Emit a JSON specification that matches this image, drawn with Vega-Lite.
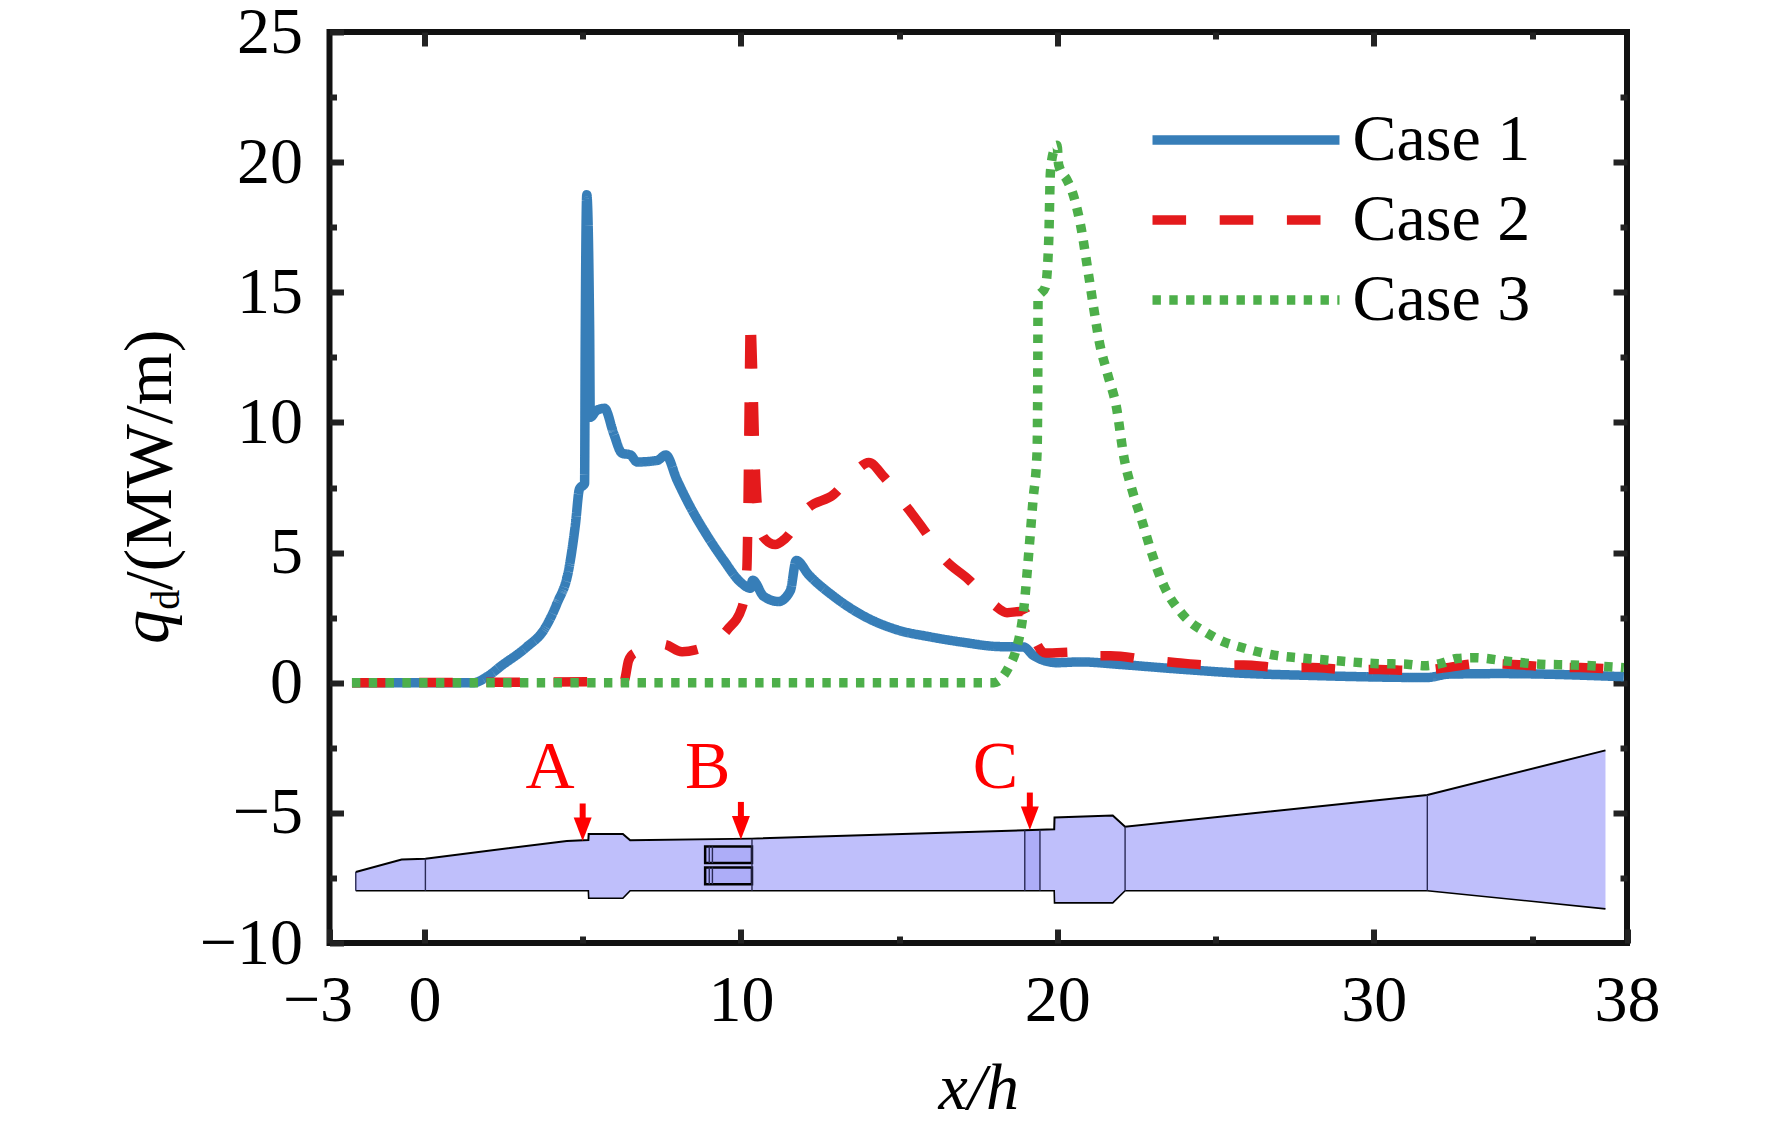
{
  "$schema": "https://vega.github.io/schema/vega-lite/v6.json",
  "autosize": {"type": "none"},
  "padding": {"left": 329.5, "top": 32, "right": 145, "bottom": 185},
  "width": 1297.5,
  "height": 911,
  "background": "white",
  "view": {"stroke": "#111111", "strokeWidth": 6, "fill": "white"},
  "config": {
    "font": "Liberation Serif",
    "axis": {
      "grid": false, "domain": false, "tickColor": "#222222", "tickWidth": 6,
      "labelFont": "Liberation Serif", "labelFontSize": 66, "labelColor": "#000000",
      "labelOverlap": false, "labelBound": false, "labelFlush": false, "zindex": 1
    }
  },
  "datasets": {
    "curves": [
      {"case": "Case 1", "x": -2.29, "q": 0}, {"case": "Case 1", "x": 1.55, "q": 0}, {"case": "Case 1", "x": 2.0, "q": 0.25},
      {"case": "Case 1", "x": 2.43, "q": 0.65}, {"case": "Case 1", "x": 3.24, "q": 1.38}, {"case": "Case 1", "x": 3.77, "q": 2.02},
      {"case": "Case 1", "x": 4.19, "q": 3.05}, {"case": "Case 1", "x": 4.56, "q": 4.35}, {"case": "Case 1", "x": 4.77, "q": 6.07},
      {"case": "Case 1", "x": 4.9, "q": 7.45}, {"case": "Case 1", "x": 5.06, "q": 7.65}, {"case": "Case 1", "x": 5.08, "q": 13},
      {"case": "Case 1", "x": 5.13, "q": 18.75}, {"case": "Case 1", "x": 5.22, "q": 13.6}, {"case": "Case 1", "x": 5.24, "q": 10.2},
      {"case": "Case 1", "x": 5.45, "q": 10.47}, {"case": "Case 1", "x": 5.69, "q": 10.54}, {"case": "Case 1", "x": 5.98, "q": 9.57},
      {"case": "Case 1", "x": 6.24, "q": 8.82}, {"case": "Case 1", "x": 6.51, "q": 8.75}, {"case": "Case 1", "x": 6.72, "q": 8.48},
      {"case": "Case 1", "x": 7.35, "q": 8.54}, {"case": "Case 1", "x": 7.63, "q": 8.75}, {"case": "Case 1", "x": 7.98, "q": 7.79},
      {"case": "Case 1", "x": 8.4, "q": 6.76}, {"case": "Case 1", "x": 8.93, "q": 5.66}, {"case": "Case 1", "x": 9.46, "q": 4.7},
      {"case": "Case 1", "x": 9.98, "q": 3.87}, {"case": "Case 1", "x": 10.3, "q": 3.63}, {"case": "Case 1", "x": 10.37, "q": 3.94},
      {"case": "Case 1", "x": 10.72, "q": 3.32}, {"case": "Case 1", "x": 11.19, "q": 3.12}, {"case": "Case 1", "x": 11.56, "q": 3.53},
      {"case": "Case 1", "x": 11.75, "q": 4.7}, {"case": "Case 1", "x": 12.14, "q": 4.15}, {"case": "Case 1", "x": 12.93, "q": 3.32},
      {"case": "Case 1", "x": 13.98, "q": 2.5}, {"case": "Case 1", "x": 14.94, "q": 2.03}, {"case": "Case 1", "x": 15.99, "q": 1.76},
      {"case": "Case 1", "x": 17.04, "q": 1.55}, {"case": "Case 1", "x": 18.1, "q": 1.39}, {"case": "Case 1", "x": 18.94, "q": 1.37},
      {"case": "Case 1", "x": 19.25, "q": 1.04}, {"case": "Case 1", "x": 19.99, "q": 0.77}, {"case": "Case 1", "x": 20.73, "q": 0.8},
      {"case": "Case 1", "x": 21.99, "q": 0.7}, {"case": "Case 1", "x": 23.89, "q": 0.52}, {"case": "Case 1", "x": 25.89, "q": 0.36},
      {"case": "Case 1", "x": 27.68, "q": 0.29}, {"case": "Case 1", "x": 31.68, "q": 0.2}, {"case": "Case 1", "x": 32.37, "q": 0.33},
      {"case": "Case 1", "x": 34.0, "q": 0.35}, {"case": "Case 1", "x": 37.9, "q": 0.23},

      {"case": "Case 2", "x": -2.29, "q": 0}, {"case": "Case 2", "x": 6.3, "q": 0.05}, {"case": "Case 2", "x": 6.45, "q": 0.85},
      {"case": "Case 2", "x": 6.61, "q": 1.12}, {"case": "Case 2", "x": 7.56, "q": 1.47}, {"case": "Case 2", "x": 8.14, "q": 1.19},
      {"case": "Case 2", "x": 8.56, "q": 1.26}, {"case": "Case 2", "x": 9.56, "q": 2.02}, {"case": "Case 2", "x": 10.04, "q": 2.91},
      {"case": "Case 2", "x": 10.19, "q": 4.42}, {"case": "Case 2", "x": 10.21, "q": 5.51}, {"case": "Case 2", "x": 10.25, "q": 9.49},
      {"case": "Case 2", "x": 10.3, "q": 14.0}, {"case": "Case 2", "x": 10.46, "q": 8.12}, {"case": "Case 2", "x": 10.51, "q": 6.95},
      {"case": "Case 2", "x": 10.72, "q": 5.58}, {"case": "Case 2", "x": 11.09, "q": 5.31}, {"case": "Case 2", "x": 11.4, "q": 5.54},
      {"case": "Case 2", "x": 12.09, "q": 6.68}, {"case": "Case 2", "x": 12.93, "q": 7.23}, {"case": "Case 2", "x": 13.67, "q": 8.19},
      {"case": "Case 2", "x": 14.04, "q": 8.46}, {"case": "Case 2", "x": 14.51, "q": 7.92}, {"case": "Case 2", "x": 15.15, "q": 6.9},
      {"case": "Case 2", "x": 15.78, "q": 5.88}, {"case": "Case 2", "x": 16.41, "q": 4.78}, {"case": "Case 2", "x": 17.2, "q": 3.96},
      {"case": "Case 2", "x": 17.99, "q": 3.0}, {"case": "Case 2", "x": 18.41, "q": 2.69}, {"case": "Case 2", "x": 18.94, "q": 2.75},
      {"case": "Case 2", "x": 19.15, "q": 2.17}, {"case": "Case 2", "x": 19.36, "q": 1.48}, {"case": "Case 2", "x": 19.62, "q": 1.14},
      {"case": "Case 2", "x": 20.68, "q": 1.18}, {"case": "Case 2", "x": 21.15, "q": 1.04}, {"case": "Case 2", "x": 21.68, "q": 1.04},
      {"case": "Case 2", "x": 22.84, "q": 0.88}, {"case": "Case 2", "x": 23.78, "q": 0.77}, {"case": "Case 2", "x": 24.89, "q": 0.68},
      {"case": "Case 2", "x": 25.89, "q": 0.68}, {"case": "Case 2", "x": 27.05, "q": 0.58}, {"case": "Case 2", "x": 28.05, "q": 0.58},
      {"case": "Case 2", "x": 29.15, "q": 0.51}, {"case": "Case 2", "x": 30.15, "q": 0.51}, {"case": "Case 2", "x": 31.26, "q": 0.47},
      {"case": "Case 2", "x": 31.79, "q": 0.51}, {"case": "Case 2", "x": 32.31, "q": 0.58}, {"case": "Case 2", "x": 33.37, "q": 0.74},
      {"case": "Case 2", "x": 34.42, "q": 0.7}, {"case": "Case 2", "x": 35.47, "q": 0.61}, {"case": "Case 2", "x": 36.53, "q": 0.58},
      {"case": "Case 2", "x": 37.9, "q": 0.51},

      {"case": "Case 3", "x": -2.29, "q": 0}, {"case": "Case 3", "x": 17.99, "q": 0}, {"case": "Case 3", "x": 18.46, "q": 0.59},
      {"case": "Case 3", "x": 18.68, "q": 1.2}, {"case": "Case 3", "x": 18.94, "q": 2.86}, {"case": "Case 3", "x": 19.1, "q": 5.05},
      {"case": "Case 3", "x": 19.23, "q": 7.0}, {"case": "Case 3", "x": 19.36, "q": 8.9}, {"case": "Case 3", "x": 19.38, "q": 11.65},
      {"case": "Case 3", "x": 19.39, "q": 14.8}, {"case": "Case 3", "x": 19.62, "q": 15.2}, {"case": "Case 3", "x": 19.73, "q": 17.1},
      {"case": "Case 3", "x": 19.78, "q": 19.6}, {"case": "Case 3", "x": 19.89, "q": 20.45}, {"case": "Case 3", "x": 19.99, "q": 20.65},
      {"case": "Case 3", "x": 20.04, "q": 19.9}, {"case": "Case 3", "x": 20.31, "q": 19.3}, {"case": "Case 3", "x": 20.47, "q": 18.86},
      {"case": "Case 3", "x": 20.73, "q": 17.6}, {"case": "Case 3", "x": 20.99, "q": 15.64}, {"case": "Case 3", "x": 21.15, "q": 14.38},
      {"case": "Case 3", "x": 21.33, "q": 13.07}, {"case": "Case 3", "x": 21.59, "q": 11.84}, {"case": "Case 3", "x": 21.87, "q": 10.56},
      {"case": "Case 3", "x": 22.1, "q": 8.68}, {"case": "Case 3", "x": 22.36, "q": 7.41}, {"case": "Case 3", "x": 22.68, "q": 6.19},
      {"case": "Case 3", "x": 22.99, "q": 4.95}, {"case": "Case 3", "x": 23.36, "q": 3.74}, {"case": "Case 3", "x": 23.94, "q": 2.65},
      {"case": "Case 3", "x": 24.78, "q": 1.87}, {"case": "Case 3", "x": 25.26, "q": 1.57}, {"case": "Case 3", "x": 25.78, "q": 1.37},
      {"case": "Case 3", "x": 26.84, "q": 1.06}, {"case": "Case 3", "x": 27.89, "q": 0.93}, {"case": "Case 3", "x": 28.94, "q": 0.83},
      {"case": "Case 3", "x": 30.0, "q": 0.74}, {"case": "Case 3", "x": 31.05, "q": 0.71}, {"case": "Case 3", "x": 31.6, "q": 0.65},
      {"case": "Case 3", "x": 32.12, "q": 0.74}, {"case": "Case 3", "x": 32.63, "q": 0.93}, {"case": "Case 3", "x": 33.16, "q": 0.96},
      {"case": "Case 3", "x": 34.21, "q": 0.83}, {"case": "Case 3", "x": 35.26, "q": 0.71}, {"case": "Case 3", "x": 36.32, "q": 0.68},
      {"case": "Case 3", "x": 37.9, "q": 0.58}
    ],
    "body": [
      {"x": -2.17, "upper": -7.27, "lower": -7.99}, {"x": -0.72, "upper": -6.79, "lower": -7.99},
      {"x": 0.03, "upper": -6.76, "lower": -7.99}, {"x": 4.5, "upper": -6.08, "lower": -7.99},
      {"x": 5.18, "upper": -6.04, "lower": -7.99}, {"x": 5.19, "upper": -5.81, "lower": -8.28},
      {"x": 6.27, "upper": -5.81, "lower": -8.28}, {"x": 6.5, "upper": -6.05, "lower": -7.99},
      {"x": 10.35, "upper": -5.99, "lower": -7.99}, {"x": 18.97, "upper": -5.67, "lower": -7.99},
      {"x": 19.9, "upper": -5.63, "lower": -7.99}, {"x": 19.91, "upper": -5.18, "lower": -8.46},
      {"x": 21.75, "upper": -5.1, "lower": -8.46}, {"x": 22.14, "upper": -5.53, "lower": -7.99},
      {"x": 31.69, "upper": -4.31, "lower": -7.99}, {"x": 37.32, "upper": -2.6, "lower": -8.69}
    ],
    "strip": [
      {"x": 18.97, "x2": 19.45, "y": -5.67, "y2": -7.99}
    ],
    "struts": [
      {"x": 8.87, "x2": 10.35, "y": -6.29, "y2": -6.93},
      {"x": 8.87, "x2": 10.35, "y": -7.1, "y2": -7.74}
    ],
    "edges": [
      {"x": -2.17, "y": -7.27, "y2": -7.99}, {"x": 0.03, "y": -6.76, "y2": -7.99},
      {"x": 10.35, "y": -5.99, "y2": -7.99}, {"x": 18.97, "y": -5.67, "y2": -7.99},
      {"x": 19.45, "y": -5.65, "y2": -7.99}, {"x": 22.14, "y": -5.53, "y2": -7.99},
      {"x": 31.69, "y": -4.31, "y2": -7.99}, {"x": 9.0, "y": -6.29, "y2": -6.93},
      {"x": 9.1, "y": -6.29, "y2": -6.93}, {"x": 9.0, "y": -7.1, "y2": -7.74},
      {"x": 9.1, "y": -7.1, "y2": -7.74}
    ],
    "arrows": [
      {"name": "A", "x": 5.0, "top": -4.64, "head": -5.63, "labelX": 3.97, "labelY": -4.05},
      {"name": "B", "x": 10.0, "top": -4.58, "head": -5.57, "labelX": 8.95, "labelY": -4.05},
      {"name": "C", "x": 19.13, "top": -4.22, "head": -5.21, "labelX": 18.04, "labelY": -4.05}
    ]
  },
  "layer": [
    {
      "data": {"name": "body"},
      "mark": {"type": "area", "fill": "#bfbffb", "stroke": null},
      "encoding": {
        "x": {"field": "x", "type": "quantitative",
          "scale": {"domain": [-3, 38], "nice": false, "zero": false},
          "axis": {"orient": "bottom", "values": [-3, 0, 10, 20, 30, 38], "tickSize": -14, "labelPadding": 39,
            "labelOffset": {"expr": "datum.value === -3 ? -12 : 0"},
            "title": "x/h", "titleFont": "Liberation Serif", "titleFontSize": 66, "titleFontStyle": "italic",
            "titleFontWeight": "normal", "titleColor": "#000000", "titlePadding": 23}},
        "y": {"field": "upper", "type": "quantitative",
          "scale": {"domain": [-10, 25], "nice": false, "zero": false},
          "axis": {"orient": "left", "values": [-10, -5, 0, 5, 10, 15, 20, 25], "tickSize": -14, "labelPadding": 41, "title": null}},
        "y2": {"field": "lower"}
      }
    },
    {
      "data": {"name": "strip"},
      "mark": {"type": "rect", "fill": "#adadf8", "stroke": null},
      "encoding": {
        "x": {"field": "x", "type": "quantitative", "axis": null},
        "x2": {"field": "x2"},
        "y": {"field": "y", "type": "quantitative", "axis": null},
        "y2": {"field": "y2"}
      }
    },
    {
      "data": {"name": "struts"},
      "mark": {"type": "rect", "fill": "#adadf8", "stroke": "#000000", "strokeWidth": 2.5},
      "encoding": {
        "x": {"field": "x", "type": "quantitative", "axis": null},
        "x2": {"field": "x2"},
        "y": {"field": "y", "type": "quantitative", "axis": null},
        "y2": {"field": "y2"}
      }
    },
    {
      "data": {"name": "body"},
      "mark": {"type": "line", "stroke": "#000000", "strokeWidth": 2},
      "encoding": {
        "x": {"field": "x", "type": "quantitative",
          "axis": {"orient": "bottom", "values": [5, 15, 25, 35], "tickSize": -7, "labels": false, "title": null}},
        "y": {"field": "upper", "type": "quantitative",
          "axis": {"orient": "left", "values": [-7.5, -2.5, 2.5, 7.5, 12.5, 17.5, 22.5], "tickSize": -7, "labels": false, "title": null}}
      }
    },
    {
      "data": {"name": "body"},
      "mark": {"type": "line", "stroke": "#000000", "strokeWidth": 1.6},
      "encoding": {
        "x": {"field": "x", "type": "quantitative",
          "axis": {"orient": "top", "values": [0, 10, 20, 30], "tickSize": -14, "labels": false, "title": null}},
        "y": {"field": "lower", "type": "quantitative",
          "axis": {"orient": "right", "values": [-5, 0, 5, 10, 15, 20], "tickSize": -14, "labels": false, "title": null}}
      }
    },
    {
      "data": {"name": "edges"},
      "mark": {"type": "rule", "stroke": "#2a2a55", "strokeWidth": 1.4},
      "encoding": {
        "x": {"field": "x", "type": "quantitative",
          "axis": {"orient": "top", "values": [5, 15, 25, 35], "tickSize": -7, "labels": false, "title": null}},
        "y": {"field": "y", "type": "quantitative",
          "axis": {"orient": "right", "values": [-7.5, -2.5, 2.5, 7.5, 12.5, 17.5, 22.5], "tickSize": -7, "labels": false, "title": null}},
        "y2": {"field": "y2"}
      }
    },
    {
      "data": {"name": "curves"},
      "mark": {"type": "line", "strokeWidth": 9.5, "strokeJoin": "round", "strokeCap": "butt", "interpolate": "monotone"},
      "encoding": {
        "x": {"field": "x", "type": "quantitative", "axis": null},
        "y": {"field": "q", "type": "quantitative", "axis": null},
        "color": {"field": "case", "type": "nominal",
          "scale": {"domain": ["Case 1", "Case 2", "Case 3"], "range": ["#377eb8", "#e41a1c", "#4daf4a"]},
          "legend": {"orient": "none", "legendX": 818, "legendY": 68, "title": null, "symbolType": "stroke",
            "symbolSize": 34969, "symbolStrokeWidth": 9.5, "labelFont": "Liberation Serif", "labelFontSize": 66,
            "labelColor": "#000000", "labelOffset": 8, "clipHeight": 80, "rowPadding": 0, "padding": 0, "labelLimit": 400}},
        "strokeDash": {"field": "case", "type": "nominal",
          "scale": {"domain": ["Case 1", "Case 2", "Case 3"], "range": [[1, 0], [33.6, 33.6], [8.4, 8.4]]}}
      }
    },
    {
      "data": {"name": "arrows"},
      "mark": {"type": "rule", "stroke": "#ff0000", "strokeWidth": 6},
      "encoding": {
        "x": {"field": "x", "type": "quantitative", "axis": null},
        "y": {"field": "top", "type": "quantitative", "axis": null},
        "y2": {"field": "head"}
      }
    },
    {
      "data": {"name": "arrows"},
      "mark": {"type": "point", "shape": "M-1,-1.3L1,-1.3L0,1.3Z", "filled": true, "fill": "#ff0000", "stroke": null, "opacity": 1, "size": 324},
      "encoding": {
        "x": {"field": "x", "type": "quantitative", "axis": null},
        "y": {"field": "head", "type": "quantitative", "axis": null}
      }
    },
    {
      "data": {"name": "arrows"},
      "mark": {"type": "text", "font": "Liberation Serif", "fontSize": 68, "fill": "#ff0000", "align": "center", "baseline": "alphabetic"},
      "encoding": {
        "x": {"field": "labelX", "type": "quantitative", "axis": null},
        "y": {"field": "labelY", "type": "quantitative", "axis": null},
        "text": {"field": "name"}
      }
    },
    {
      "data": {"values": [{"t": "q", "x": -8.1, "y": 1.49}]},
      "mark": {"type": "text", "font": "Liberation Serif", "fontStyle": "italic", "fontSize": 68, "fill": "#000000", "angle": 270, "align": "left", "baseline": "alphabetic"},
      "encoding": {
        "x": {"field": "x", "type": "quantitative", "axis": null},
        "y": {"field": "y", "type": "quantitative", "axis": null},
        "text": {"field": "t"}
      }
    },
    {
      "data": {"values": [{"t": "d", "x": -7.75, "y": 2.8}]},
      "mark": {"type": "text", "font": "Liberation Serif", "fontSize": 40, "fill": "#000000", "angle": 270, "align": "left", "baseline": "alphabetic"},
      "encoding": {
        "x": {"field": "x", "type": "quantitative", "axis": null},
        "y": {"field": "y", "type": "quantitative", "axis": null},
        "text": {"field": "t"}
      }
    },
    {
      "data": {"values": [{"t": "/(MW/m)", "x": -8.0, "y": 3.55}]},
      "mark": {"type": "text", "font": "Liberation Serif", "fontSize": 68, "fill": "#000000", "angle": 270, "align": "left", "baseline": "alphabetic"},
      "encoding": {
        "x": {"field": "x", "type": "quantitative", "axis": null},
        "y": {"field": "y", "type": "quantitative", "axis": null},
        "text": {"field": "t"}
      }
    }
  ],
  "resolve": {"axis": {"x": "independent", "y": "independent"}}
}
